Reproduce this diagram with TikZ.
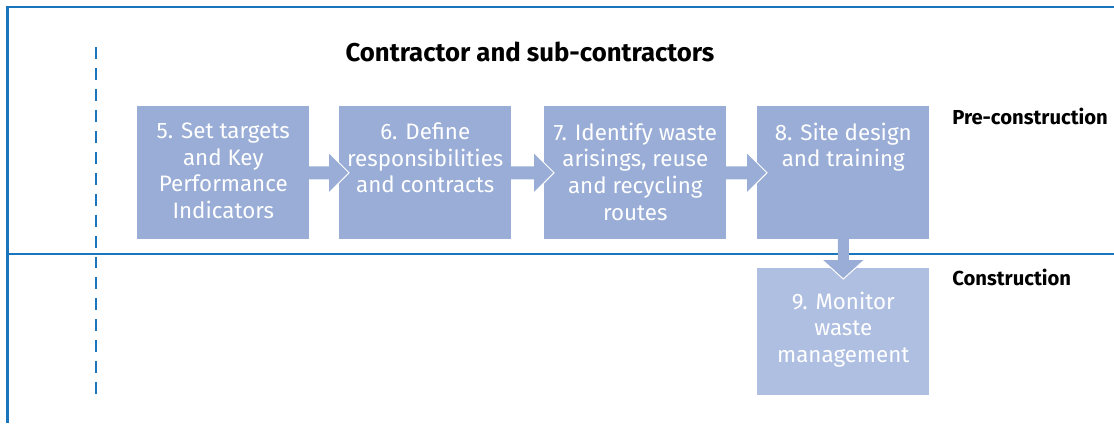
\documentclass[tikz,border=0pt]{standalone}
\usepackage{fontspec}
\setmainfont{Fira Sans}
\usetikzlibrary{calc}
\definecolor{frameblue}{RGB}{27,117,188}
\definecolor{stepblue}{RGB}{153,173,214}
\definecolor{steplight}{RGB}{175,191,225}
\def\flowright(#1)(#2){%
\fill[stepblue] ($(#1.east)+(-1,-6.5)$) -- ($(#2.west)+(-10,-6.5)$) -- ($(#2.west)+(-10,-20)$) -- ($(#2.west)+(10,0)$) -- ($(#2.west)+(-10,20)$) -- ($(#2.west)+(-10,6.5)$) -- ($(#1.east)+(-1,6.5)$) -- cycle;
\draw[white, line width=0.7pt] ($(#2.west)+(-10,-20)$) -- ($(#2.west)+(10,0)$) -- ($(#2.west)+(-10,20)$);}
\def\flowdown(#1)(#2){%
\fill[stepblue] ($(#1.south)+(-5.5,-1)$) -- ($(#2.north)+(-5.5,-8)$) -- ($(#2.north)+(-21,-8)$) -- ($(#2.north)+(0,11)$) -- ($(#2.north)+(21,-8)$) -- ($(#2.north)+(5.5,-8)$) -- ($(#1.south)+(5.5,-1)$) -- cycle;
\draw[white, line width=0.7pt] ($(#2.north)+(-21,-8)$) -- ($(#2.north)+(0,11)$) -- ($(#2.north)+(21,-8)$);}
\newcommand{\steptext}[2]{\parbox[c][#1][t]{4.3cm}{\centering\vspace{0pt}#2}}

\begin{document}
\begin{tikzpicture}[x=0.025cm, y=-0.025cm,
	stepbox/.style={fill=stepblue, text=white, anchor=north west, inner sep=0pt, minimum width=4.3cm, minimum height=3.325cm, font=\fontsize{15.9}{19}\selectfont},
	phase/.style={anchor=west, inner sep=0pt, font=\fontsize{14.4}{17}\selectfont\bfseries}]
		%%%%% START %%%%%
		
		\useasboundingbox (0, 0) rectangle (1114, 423);
		
		\draw[frameblue, line width=2pt] (7.5, 423) -- (7.5, 7) -- (1114, 7);
		\draw[frameblue, line width=1.1pt] (8, 254) -- (1114, 254);
		\draw[frameblue, line width=0.9pt, dash pattern=on 8.5pt off 6.4pt] (96, 47) -- (96, 397);
		
		\node[inner sep=0pt, font=\fontsize{18.3}{22}\selectfont\bfseries] (title) at (530, 52) {Contractor and sub-contractors};
		\node[phase] (pre) at (952, 116) {Pre-construction};
		\node[phase] (con) at (952, 277) {Construction};
		
		\node[stepbox] (b5) at (137, 106) {\steptext{2.5cm}{5. Set targets\\ and Key\\ Performance\\ Indicators}};
		\node[stepbox] (b6) at (339, 106) {\steptext{2.5cm}{6. Define\\ responsibilities\\ and contracts}};
		\node[stepbox, minimum width=4.55cm] (b7) at (544, 106) {\steptext{2.5cm}{7. Identify waste\\ arisings, reuse\\ and recycling\\ routes}};
		\node[stepbox] (b8) at (757, 106) {\steptext{2.5cm}{8. Site design\\ and training}};
		\node[stepbox, fill=steplight, minimum height=3.175cm] (b9) at (757, 268) {\steptext{2.0cm}{9. Monitor\\ waste\\ management}};
		
		\flowright(b5)(b6);
		\flowright(b6)(b7);
		\flowright(b7)(b8);
		\flowdown(b8)(b9);
		
		%%%%% END %%%%%
	\end{tikzpicture}
\end{document}
